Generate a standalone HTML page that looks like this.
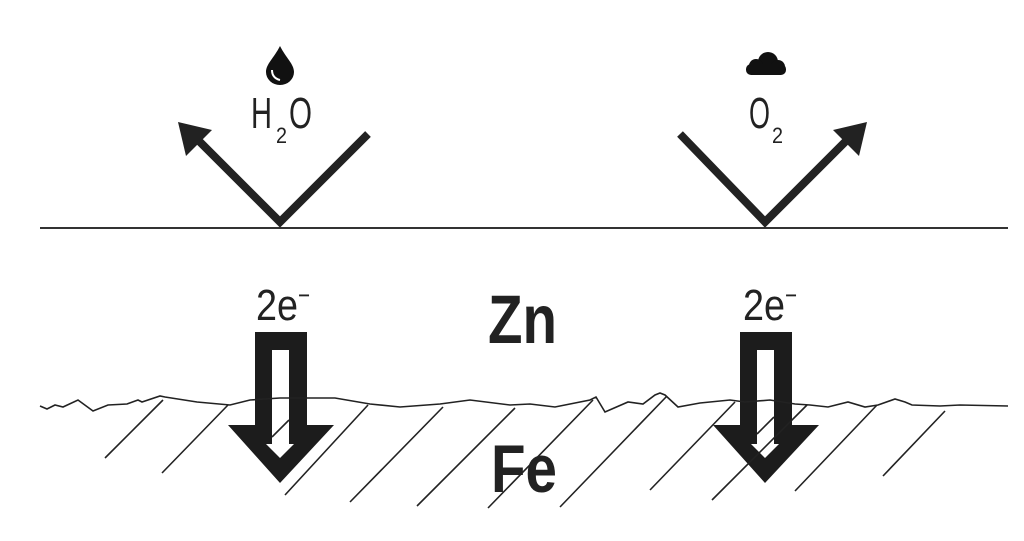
<!DOCTYPE html>
<html><head><meta charset="utf-8"><style>
html,body{margin:0;padding:0;background:#fff;}
svg{display:block}
</style></head><body>
<svg width="1024" height="541" viewBox="0 0 1024 541" xmlns="http://www.w3.org/2000/svg">
<rect width="1024" height="541" fill="#fff"/>
<line x1="40" y1="228" x2="1008" y2="228" stroke="#333" stroke-width="2"/>
<polyline points="368,134 280,222 192,134" fill="none" stroke="#222" stroke-width="8"/>
<polygon points="178,122 212,130 186,156" fill="#222"/>
<polyline points="680,134 765,222 853,134" fill="none" stroke="#222" stroke-width="8"/>
<polygon points="867,122 833,130 859,156" fill="#222"/>
<path d="M280,46 C286,58 294,64 294,72 A14,13 0 0 1 266,72 C266,64 274,58 280,46 Z" fill="#111"/>
<path d="M272,70 Q272,78 280,80" fill="none" stroke="#fff" stroke-width="2"/>
<g fill="#111">
<circle cx="768" cy="62" r="10"/>
<circle cx="756" cy="66" r="7"/>
<circle cx="778" cy="67" r="7"/>
<rect x="746" y="64" width="40" height="11" rx="5"/>
</g>
<g font-family="Liberation Sans, sans-serif" fill="#222">
<text x="251" y="128" font-size="44" textLength="21" lengthAdjust="spacingAndGlyphs">H</text>
<text x="276" y="143" font-size="22" textLength="11" lengthAdjust="spacingAndGlyphs">2</text>
<text x="289" y="128" font-size="44" textLength="23" lengthAdjust="spacingAndGlyphs">O</text>
<text x="749" y="128" font-size="44" textLength="21" lengthAdjust="spacingAndGlyphs">O</text>
<text x="772" y="143" font-size="22" textLength="11" lengthAdjust="spacingAndGlyphs">2</text>
<text x="256" y="320" font-size="44" textLength="42" lengthAdjust="spacingAndGlyphs">2e</text>
<text x="298" y="304" font-size="26" textLength="12" lengthAdjust="spacingAndGlyphs">−</text>
<text x="743" y="320" font-size="44" textLength="42" lengthAdjust="spacingAndGlyphs">2e</text>
<text x="785" y="304" font-size="26" textLength="12" lengthAdjust="spacingAndGlyphs">−</text>
<text x="488" y="343" font-size="69" font-weight="bold" textLength="69" lengthAdjust="spacingAndGlyphs">Zn</text>
<text x="491" y="492" font-size="68" font-weight="bold" textLength="66" lengthAdjust="spacingAndGlyphs">Fe</text>
</g>
<g fill="#1c1c1c">
<polygon points="255,332 307,332 307,425 334,425 280,483 228,425 255,425"/>
<polygon points="740,332 792,332 792,425 819,425 765,483 713,425 740,425"/>
</g>
<g fill="#fff">
<polygon points="272,350 289,350 289,444 294,444 280,458 266,444 272,444"/>
<polygon points="757,350 774,350 774,444 779,444 765,458 751,444 757,444"/>
</g>
<g stroke="#222" stroke-width="1.6">
<line x1="163" y1="400" x2="105" y2="458"/>
<line x1="228" y1="405" x2="162" y2="473"/>
<line x1="368" y1="405" x2="285" y2="495"/>
<line x1="443" y1="407" x2="350" y2="502"/>
<line x1="515" y1="408" x2="417" y2="506"/>
<line x1="593" y1="400" x2="488" y2="508"/>
<line x1="667" y1="396" x2="560" y2="507"/>
<line x1="735" y1="402" x2="650" y2="490"/>
<line x1="807" y1="405" x2="712" y2="500"/>
<line x1="877" y1="405" x2="795" y2="491"/>
<line x1="945" y1="411" x2="883" y2="476"/>
<line x1="289" y1="420" x2="272" y2="437"/>
<line x1="774" y1="417" x2="757" y2="434"/>
</g>
<polyline fill="none" stroke="#222" stroke-width="1.6" points="40,406 47,409 55,405 63,407 78,400 93,411 108,405 127,404 138,400 142,402 160,396 165,397 197,402 230,405 250,400 280,398 300,398 335,398 370,404 400,407 440,404 470,400 510,405 530,404 555,407 590,400 596,397 605,412 628,402 643,404 655,395 660,393 665,395 678,407 700,403 730,400 745,402 770,400 795,404 810,405 828,407 848,402 865,407 878,405 895,399 905,402 912,405 940,406 960,405 1008,406"/>
</svg>
</body></html>
